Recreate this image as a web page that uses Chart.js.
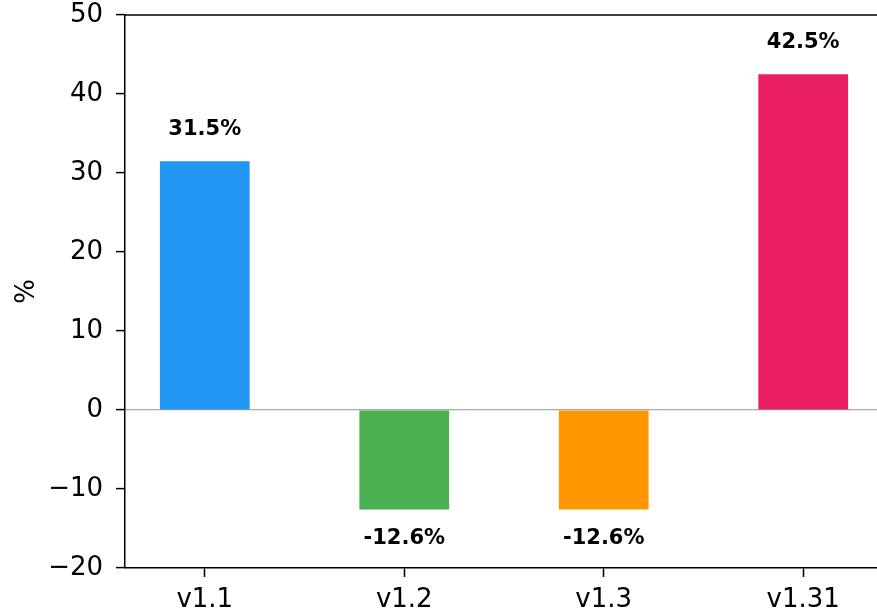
<!DOCTYPE html>
<html>
<head>
<meta charset="utf-8">
<script src="https://cdn.jsdelivr.net/npm/chart.js@4"></script>
<style>
  html, body { margin: 0; padding: 0; background: #fff; overflow: hidden; }
  #wrap { width: 890px; height: 616px; }
</style>
</head>
<body>
<div id="wrap"><canvas id="chart" width="890" height="616"></canvas></div>
<script>
const versions = ["v1.1", "v1.2", "v1.3", "v1.31"];
const changePct = [31.5, -12.6, -12.6, 42.5];
const barColors = ["#2196F3", "#4CAF50", "#FF9800", "#E91E63"];
const yTicks = [-20, -10, 0, 10, 20, 30, 40, 50];

const FONT = "'DejaVu Sans', sans-serif";

// value labels above / below each bar
const valueLabels = {
    id: "valueLabels",
    afterDatasetsDraw(chart) {
        const ctx = chart.ctx;
        const meta = chart.getDatasetMeta(0);
        ctx.save();
        ctx.font = "bold 21px " + FONT;
        ctx.fillStyle = "#000";
        ctx.textAlign = "center";
        ctx.textBaseline = "middle";
        meta.data.forEach((bar, i) => {
            const v = changePct[i];
            const y = v >= 0 ? bar.y - 32 : bar.y + 29;
            ctx.fillText(v.toFixed(1) + "%", bar.x, y);
        });
        ctx.restore();
    }
};

// top spine
const frame = {
    id: "frame",
    afterDraw(chart) {
        const a = chart.chartArea;
        const ctx = chart.ctx;
        ctx.save();
        ctx.strokeStyle = "#000";
        ctx.lineWidth = 1.5;
        ctx.beginPath();
        ctx.moveTo(a.left, a.top);
        ctx.lineTo(a.right, a.top);
        ctx.stroke();
        ctx.restore();
    }
};

new Chart(document.getElementById("chart").getContext("2d"), {
    type: "bar",
    data: {
        datasets: [{
            data: changePct.map((v, i) => ({ x: i, y: v })),
            backgroundColor: barColors,
            borderWidth: 0,
            barPercentage: 0.45,
            categoryPercentage: 1.0
        }]
    },
    options: {
        responsive: false,
        animation: false,
        layout: { padding: { top: 15, right: 7, left: 0, bottom: 0 } },
        plugins: {
            legend: { display: false },
            tooltip: { enabled: false }
        },
        scales: {
            x: {
                type: "linear",
                offset: false,
                min: -0.4,
                max: 3.4,
                afterBuildTicks(scale) { scale.ticks = versions.map((_, i) => ({ value: i })); },
                grid: { display: true, offset: false, drawOnChartArea: false, tickLength: 9, tickColor: "#000", tickWidth: 1.5 },
                border: { color: "#000", width: 1.5 },
                ticks: {
                    color: "#000",
                    font: { family: FONT, size: 26 },
                    padding: 8,
                    autoSkip: false,
                    maxRotation: 0,
                    callback: v => versions[v]
                },
                afterFit(scale) {
                    scale.height = 48;
                    scale.paddingLeft = 0;
                    scale.paddingRight = 0;
                }
            },
            y: {
                min: -20,
                max: 50,
                afterBuildTicks(scale) { scale.ticks = yTicks.map(v => ({ value: v })); },
                grid: {
                    color: ctx => ctx.tick && ctx.tick.value === 0 ? "#aaaaaa" : "rgba(0,0,0,0)",
                    lineWidth: 1.2,
                    tickLength: 9,
                    tickColor: "#000",
                    tickWidth: 1.5
                },
                border: { color: "#000", width: 1.5 },
                ticks: {
                    color: "#000",
                    font: { family: FONT, size: 26 },
                    padding: 13,
                    callback: v => (v < 0 ? "\u2212" + Math.abs(v) : String(v))
                },
                title: { display: true, text: "%", color: "#000", font: { family: FONT, size: 26 }, padding: { top: 12, bottom: 0 } },
                afterFit(scale) {
                    scale.width = 125;
                    scale.paddingTop = 0;
                    scale.paddingBottom = 0;
                }
            }
        }
    },
    plugins: [valueLabels, frame]
});
</script>
</body>
</html>
